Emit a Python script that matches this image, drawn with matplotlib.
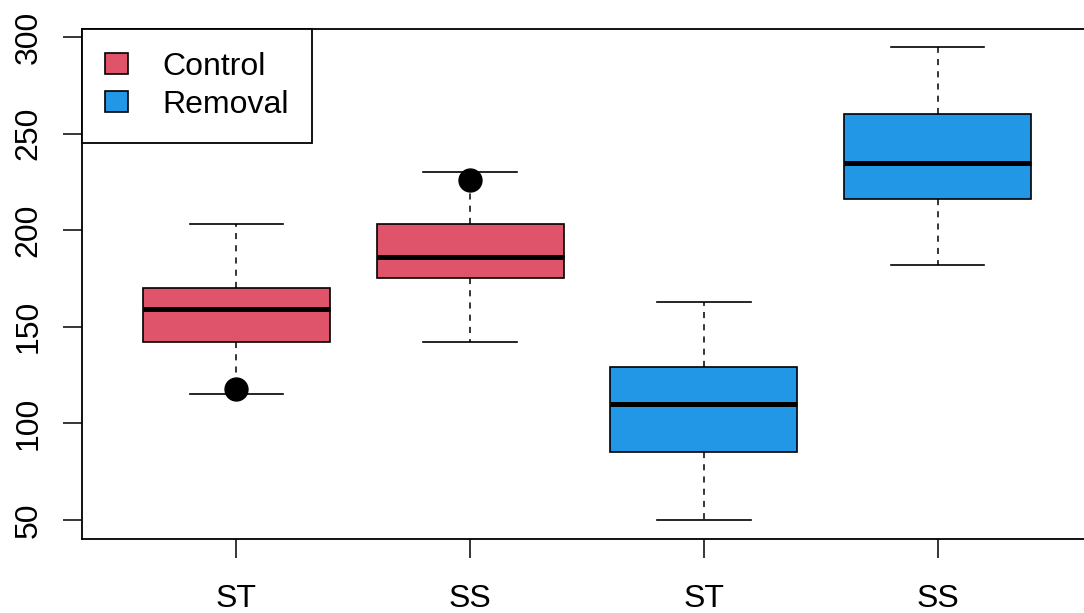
import matplotlib
matplotlib.use("Agg")
import matplotlib.pyplot as plt
from matplotlib.patches import Patch

plt.rcParams['font.family'] = ['Liberation Sans', 'DejaVu Sans']

# Five-number summaries per group (Control ST, Control SS, Removal ST, Removal SS)
tick_labels = ["ST", "SS", "ST", "SS"]
groups = ["Control", "Control", "Removal", "Removal"]
whis_lo = [115, 142, 50, 182]
q1 = [142, 175, 85, 216]
median = [159, 186, 110, 235]
q3 = [170, 203, 129, 260]
whis_hi = [203, 230, 163, 295]

# Extra highlighted observations
point_x = [1, 2]
point_y = [118, 226]

colors = {"Control": "#DF536B", "Removal": "#2297E6"}

fig = plt.figure(figsize=(10.84, 6.13), dpi=100)
ax = fig.add_axes([82 / 1084, 74 / 613, 1010 / 1084, 510 / 613])

stats = []
for i in range(len(tick_labels)):
    stats.append(dict(med=median[i], q1=q1[i], q3=q3[i],
                      whislo=whis_lo[i], whishi=whis_hi[i], fliers=[]))

positions = list(range(1, len(stats) + 1))
bp = ax.bxp(stats, positions=positions, widths=0.8, capwidths=0.4,
            patch_artist=True, showfliers=False,
            boxprops=dict(edgecolor="black", linewidth=1.2),
            medianprops=dict(color="black", linewidth=3.6, solid_capstyle="butt"),
            whiskerprops=dict(color="black", linewidth=1.1, linestyle=(0, (4, 4))),
            capprops=dict(color="black", linewidth=1.2))
for box, g in zip(bp["boxes"], groups):
    box.set_facecolor(colors[g])

ax.plot(point_x, point_y, "o", color="black", markersize=16.5, zorder=5)

ax.set_xlim(0.34, 4.66)
ax.set_ylim(40.2, 304.1)
ax.set_xticks(positions)
ax.set_xticklabels(tick_labels)
ax.set_yticks([50, 100, 150, 200, 250, 300])
ax.tick_params(axis="both", length=13.5, width=1.1, labelsize=23, color="black")
ax.tick_params(axis="x", pad=19)
ax.tick_params(axis="y", pad=14)
for lab in ax.get_yticklabels():
    lab.set_rotation(90)
    lab.set_va("center")
for sp in ax.spines.values():
    sp.set_linewidth(1.3)

handles = [Patch(facecolor=colors["Control"], edgecolor="black", linewidth=1.2, label="Control"),
           Patch(facecolor=colors["Removal"], edgecolor="black", linewidth=1.2, label="Removal")]
leg = ax.legend(handles=handles, loc="upper left", borderaxespad=0, fontsize=23,
                fancybox=False, framealpha=1, edgecolor="black",
                handlelength=0.72, handleheight=0.62, handletextpad=1.08,
                borderpad=0.72, labelspacing=0.25)
leg.get_frame().set_linewidth(1.3)

fig.savefig("out.png", dpi=100)
